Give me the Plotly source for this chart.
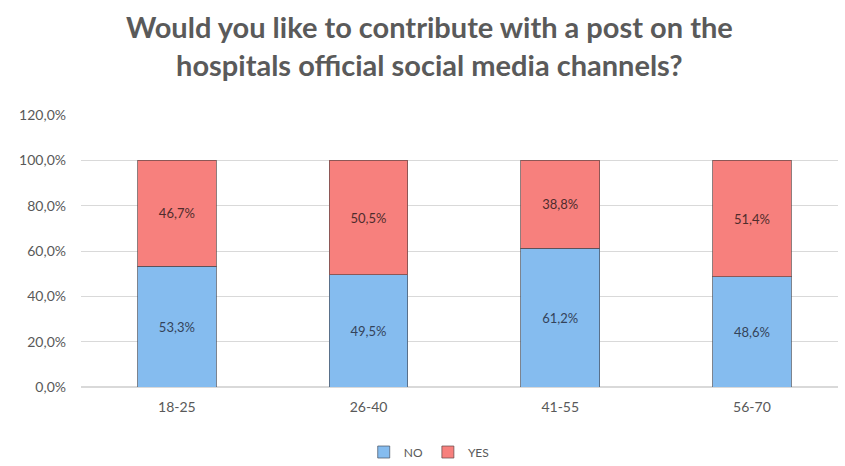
import plotly.graph_objects as go

age_groups = ["18-25", "26-40", "41-55", "56-70"]
no_share = [53.3, 49.5, 61.2, 48.6]
yes_share = [46.7, 50.5, 38.8, 51.4]
y_ticks = [0, 20, 40, 60, 80, 100, 120]
y_tick_labels = [f"{v:.1f}%".replace(".", ",") for v in y_ticks]

title_text = "Would you like to contribute with a post on the<br>hospitals official social media channels?"

fig = go.Figure()
fig.add_trace(go.Bar(
    x=age_groups, y=no_share, name="NO",
    marker=dict(color="#85bcef", line=dict(color="rgba(70,80,95,0.7)", width=1)),
    texttemplate="%{y:.1f}%", textposition="inside", insidetextanchor="middle",
    textfont=dict(color="#34435a", size=13, family="Lato"),
))
fig.add_trace(go.Bar(
    x=age_groups, y=yes_share, name="YES",
    marker=dict(color="#f7807d", line=dict(color="rgba(95,70,70,0.7)", width=1)),
    texttemplate="%{y:.1f}%", textposition="inside", insidetextanchor="middle",
    textfont=dict(color="#4f2c2c", size=13, family="Lato"),
))

fig.add_annotation(
    text=title_text, xref="paper", yref="paper", x=0.46, y=1.255,
    xanchor="center", yanchor="middle", showarrow=False, align="center",
    font=dict(family="Lato", size=29, color="#5a5a5a", weight="bold"),
)

fig.update_layout(
    barmode="stack",
    bargap=0.59,
    separators=",.",
    width=845, height=466,
    margin=dict(l=81, r=7, t=115, b=79, autoexpand=False),
    paper_bgcolor="white", plot_bgcolor="white",
    font=dict(family="Lato", color="#595959"),
    xaxis=dict(
        range=[-0.5, 3.449], showgrid=False, showline=False, zeroline=False,
        tickfont=dict(size=14, color="#595959"), ticks="", ticklabelstandoff=10,
    ),
    yaxis=dict(
        range=[0, 120], tickvals=y_ticks, ticktext=y_tick_labels,
        showgrid=True, gridcolor="#d9d9d9", gridwidth=1, zeroline=True,
        zerolinecolor="#d9d9d9", showline=False,
        tickfont=dict(size=14, color="#595959"), ticklabelstandoff=14,
    ),
    legend=dict(
        orientation="h", x=0.46, xanchor="center",
        yref="container", y=0.03, yanchor="middle",
        font=dict(size=12, color="#595959"), traceorder="normal",
    ),
    showlegend=True,
)

fig.write_html("out.html")
